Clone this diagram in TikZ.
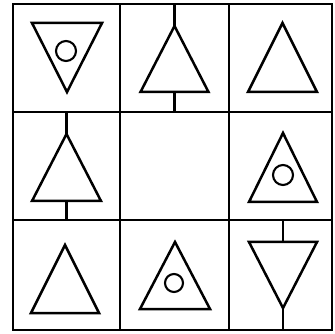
\documentclass[tikz,border=0pt]{standalone}
\begin{document}
\begin{tikzpicture}[x=1pt,y=-1pt,
  gridline/.style={line width=2.3pt},
  tri/.style={line width=2.5pt, line join=miter},
  dot/.style={line width=2.1pt},
  stem/.style={line width=2.1pt}]
\useasboundingbox (0,0) rectangle (335,334);
% grid
\draw[gridline] (13,4) rectangle (332,330);
\draw[gridline] (120,4) -- (120,330);
\draw[gridline] (229,4) -- (229,330);
\draw[gridline] (13,112) -- (332,112);
\draw[gridline] (13,220) -- (332,220);
% row 0
\draw[tri] (32,23) -- (102,23) -- (67,92) -- cycle;
\draw[dot] (66,51) circle (10);
\coordinate (a01) at (174.5,26);
\coordinate (b01) at (174.5,92);
\coordinate (c01t) at (174.5,4);
\coordinate (c01b) at (174.5,112);
\draw[tri] (a01) -- (208.5,92) -- (140.5,92) -- cycle;
\draw[stem] (c01t) -- (a01);
\draw[stem] (b01) -- (c01b);
\draw[tri] (282.5,23) -- (317,92) -- (248,92) -- cycle;
% row 1
\coordinate (a10) at (66.5,134);
\coordinate (b10) at (66.5,201);
\coordinate (c10t) at (66.5,112);
\coordinate (c10b) at (66.5,220);
\draw[tri] (a10) -- (101,201) -- (32,201) -- cycle;
\draw[stem] (c10t) -- (a10);
\draw[stem] (b10) -- (c10b);
\draw[tri] (283,133) -- (317,202) -- (249,202) -- cycle;
\draw[dot] (283,175) circle (10);
% row 2
\draw[tri] (65,245) -- (99,313) -- (31,313) -- cycle;
\draw[tri] (175,242) -- (210,309) -- (140,309) -- cycle;
\draw[dot] (174,283) circle (9);
\coordinate (a22) at (283,308);
\coordinate (b22) at (283,242);
\coordinate (c22t) at (283,220);
\coordinate (c22b) at (283,330);
\draw[tri] (249,242) -- (317,242) -- (a22) -- cycle;
\draw[stem] (c22t) -- (b22);
\draw[stem] (a22) -- (c22b);
\end{tikzpicture}
\end{document}
